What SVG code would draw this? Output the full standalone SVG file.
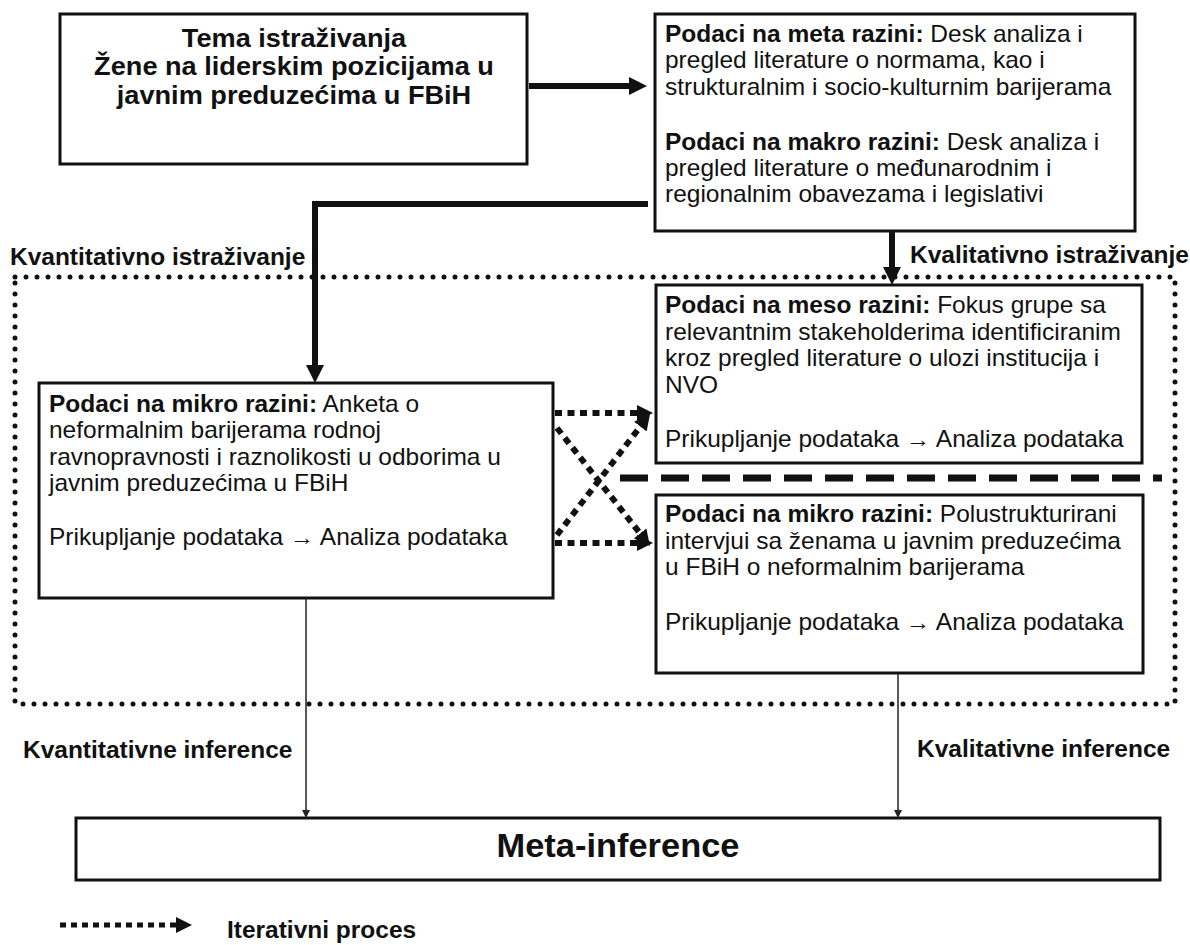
<svg xmlns="http://www.w3.org/2000/svg" width="1190" height="945" viewBox="0 0 1190 945">
<defs>
<style>
.box{fill:#fff;stroke:#111;stroke-width:3}
.t{font-family:"Liberation Sans",Arial,sans-serif;font-size:23px;fill:#111}
.b{font-weight:bold}
.title{font-family:"Liberation Sans",Arial,sans-serif;font-size:25.5px;font-weight:bold;fill:#111;text-anchor:middle}
.meta{font-family:"Liberation Sans",Arial,sans-serif;font-size:32.5px;font-weight:bold;fill:#111;text-anchor:middle}
.thick{fill:none;stroke:#111;stroke-width:6}
.thin{fill:none;stroke:#222;stroke-width:1.5}
.iter{fill:none;stroke:#111;stroke-width:6;stroke-dasharray:7 5.5}
.region{fill:none;stroke:#111;stroke-width:5;stroke-dasharray:0 11;stroke-linecap:round}
.dash{fill:none;stroke:#111;stroke-width:7;stroke-dasharray:28 13}
</style>
<marker id="ahThick" markerUnits="userSpaceOnUse" markerWidth="18" markerHeight="18" refX="2" refY="9" orient="auto"><path d="M0,0 L18,9 L0,18 z" fill="#111"/></marker>
<marker id="ahThin" markerUnits="userSpaceOnUse" markerWidth="8" markerHeight="8" refX="1" refY="4" orient="auto"><path d="M0,0 L8,4 L0,8 z" fill="#222"/></marker>
<marker id="ahDot" markerUnits="userSpaceOnUse" markerWidth="16" markerHeight="16" refX="2" refY="8" orient="auto"><path d="M0,0 L16,8 L0,16 z" fill="#111"/></marker>
</defs>
<rect width="1190" height="945" fill="#fff"/>

<g id="region">
<path class="region" d="M15,277 H1175 V704 H15 Z"/>
<text class="t b" transform="translate(10 265) scale(1.065 1)">Kvantitativno istraživanje</text>
<text class="t b" transform="translate(910 263) scale(1.065 1)">Kvalitativno istraživanje</text>
<path class="dash" d="M620,478 H1162"/>
</g>

<g id="tema">
<rect class="box" x="60" y="14" width="467" height="150"/>
<text class="title" transform="translate(294 0) scale(1.065 1)"><tspan x="0" y="47">Tema istraživanja</tspan><tspan x="0" y="75.5">Žene na liderskim pozicijama u</tspan><tspan x="0" y="104">javnim preduzećima u FBiH</tspan></text>
</g>

<g id="meta-makro">
<rect class="box" x="655" y="14" width="480" height="217"/>
<text class="t" transform="translate(665 0) scale(1.065 1)"><tspan x="0" y="42"><tspan class="b">Podaci na meta razini:</tspan> Desk analiza i</tspan><tspan x="0" y="68.5">pregled literature o normama, kao i</tspan><tspan x="0" y="95">strukturalnim i socio-kulturnim barijerama</tspan><tspan x="0" y="150"><tspan class="b">Podaci na makro razini:</tspan> Desk analiza i</tspan><tspan x="0" y="176">pregled literature o međunarodnim i</tspan><tspan x="0" y="202">regionalnim obavezama i legislativi</tspan></text>
</g>

<g id="meso">
<rect class="box" x="656" y="285" width="486" height="178"/>
<text class="t" transform="translate(665 0) scale(1.065 1)"><tspan x="0" y="313"><tspan class="b">Podaci na meso razini:</tspan> Fokus grupe sa</tspan><tspan x="0" y="340">relevantnim stakeholderima identificiranim</tspan><tspan x="0" y="366.5">kroz pregled literature o ulozi institucija i</tspan><tspan x="0" y="393">NVO</tspan><tspan x="0" y="447">Prikupljanje podataka → Analiza podataka</tspan></text>
</g>

<g id="mikro-kvant">
<rect class="box" x="39" y="383" width="514" height="215"/>
<text class="t" transform="translate(49 0) scale(1.065 1)"><tspan x="0" y="412"><tspan class="b">Podaci na mikro razini:</tspan> Anketa o</tspan><tspan x="0" y="438.5">neformalnim barijerama rodnoj</tspan><tspan x="0" y="465">ravnopravnosti i raznolikosti u odborima u</tspan><tspan x="0" y="491.5">javnim preduzećima u FBiH</tspan><tspan x="0" y="545">Prikupljanje podataka → Analiza podataka</tspan></text>
</g>

<g id="mikro-kval">
<rect class="box" x="656" y="495" width="487" height="178"/>
<text class="t" transform="translate(665 0) scale(1.065 1)"><tspan x="0" y="522"><tspan class="b">Podaci na mikro razini:</tspan> Polustrukturirani</tspan><tspan x="0" y="549">intervjui sa ženama u javnim preduzećima</tspan><tspan x="0" y="575.5">u FBiH o neformalnim barijerama</tspan><tspan x="0" y="630">Prikupljanje podataka → Analiza podataka</tspan></text>
</g>

<g id="meta-inference">
<rect class="box" x="76" y="818" width="1084" height="62"/>
<text class="meta" transform="translate(618 857) scale(1.06 1)">Meta-inference</text>
</g>

<g id="labels">
<text class="t b" transform="translate(23 758) scale(1.065 1)">Kvantitativne inference</text>
<text class="t b" transform="translate(917 757) scale(1.065 1)">Kvalitativne inference</text>
</g>

<g id="connectors">
<path class="thick" d="M529,86 H631" marker-end="url(#ahThick)"/>
<path class="thick" d="M648,204 H315 V367" stroke-width="7" marker-end="url(#ahThick)"/>
<path class="thick" d="M892,231 V269" marker-end="url(#ahThick)"/>
<path class="thin" d="M306,598 V811" marker-end="url(#ahThin)"/>
<path class="thin" d="M898,673 V811" marker-end="url(#ahThin)"/>
<path class="iter" d="M555,413 H639" marker-end="url(#ahDot)"/>
<path class="iter" d="M555,543 H639" marker-end="url(#ahDot)"/>
<path class="iter" d="M557,428 L641.3,535" marker-end="url(#ahDot)"/>
<path class="iter" d="M557,535 L641.5,425" marker-end="url(#ahDot)"/>
</g>

<g id="legend">
<path d="M60,925 H178" fill="none" stroke="#111" stroke-width="5" stroke-dasharray="6 5" marker-end="url(#ahDot)"/>
<text class="t b" transform="translate(227 938) scale(1.065 1)">Iterativni proces</text>
</g>
</svg>
